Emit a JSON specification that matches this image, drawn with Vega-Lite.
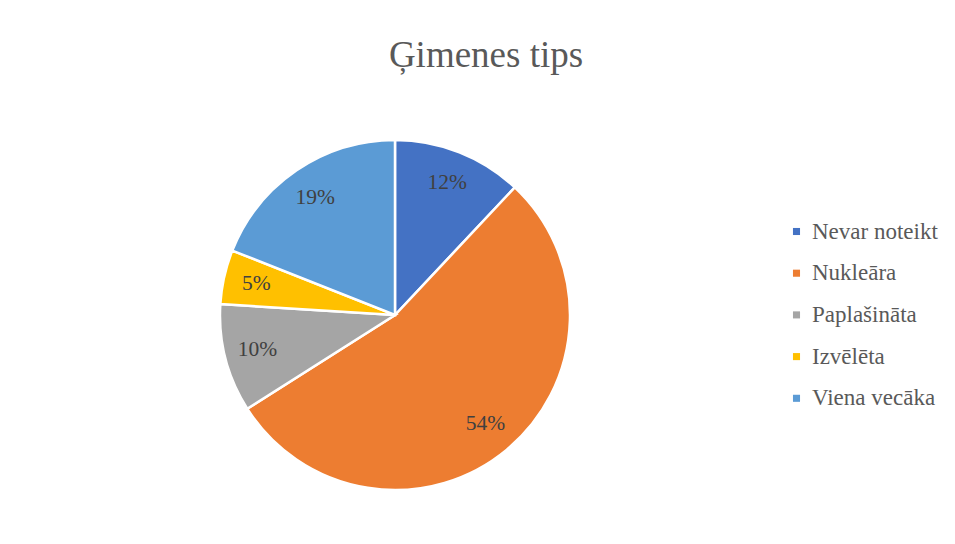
{
  "$schema": "https://vega.github.io/schema/vega-lite/v6.json",
  "autosize": {"type": "none"},
  "padding": {"left": 220, "top": 140, "right": 385, "bottom": 54},
  "width": 350,
  "height": 350,
  "background": "white",
  "title": {
    "text": "Ģimenes tips",
    "font": "Liberation Serif",
    "fontSize": 37,
    "fontWeight": "normal",
    "color": "#595959",
    "anchor": "middle",
    "dx": 91,
    "offset": 60
  },
  "data": {
    "values": [
      {"tips": "Nevar noteikt", "pct": 0.12, "ord": 1},
      {"tips": "Nukleāra", "pct": 0.54, "ord": 2},
      {"tips": "Paplašināta", "pct": 0.10, "ord": 3},
      {"tips": "Izvēlēta", "pct": 0.05, "ord": 4},
      {"tips": "Viena vecāka", "pct": 0.19, "ord": 5}
    ]
  },
  "encoding": {
    "theta": {"field": "pct", "type": "quantitative", "stack": true},
    "order": {"field": "ord", "type": "quantitative"}
  },
  "layer": [
    {
      "mark": {"type": "arc", "outerRadius": 175, "stroke": "white", "strokeWidth": 2.5},
      "encoding": {
        "color": {
          "field": "tips",
          "type": "nominal",
          "scale": {
            "domain": ["Nevar noteikt", "Nukleāra", "Paplašināta", "Izvēlēta", "Viena vecāka"],
            "range": ["#4472C4", "#ED7D31", "#A5A5A5", "#FFC000", "#5B9BD5"]
          },
          "legend": {
            "title": null,
            "orient": "none",
            "legendX": 565,
            "legendY": 80,
            "symbolType": "square",
            "symbolSize": 50,
            "symbolStrokeWidth": 0,
            "labelFont": "Liberation Serif",
            "labelFontSize": 23,
            "labelColor": "#595959",
            "labelOffset": 4,
            "rowPadding": 17.7,
            "labelLimit": 300
          }
        }
      }
    },
    {
      "mark": {"type": "text", "radius": 142, "font": "Liberation Serif", "fontSize": 21.5, "color": "#404040"},
      "encoding": {
        "text": {"field": "pct", "type": "quantitative", "format": ".0%"}
      }
    }
  ]
}
